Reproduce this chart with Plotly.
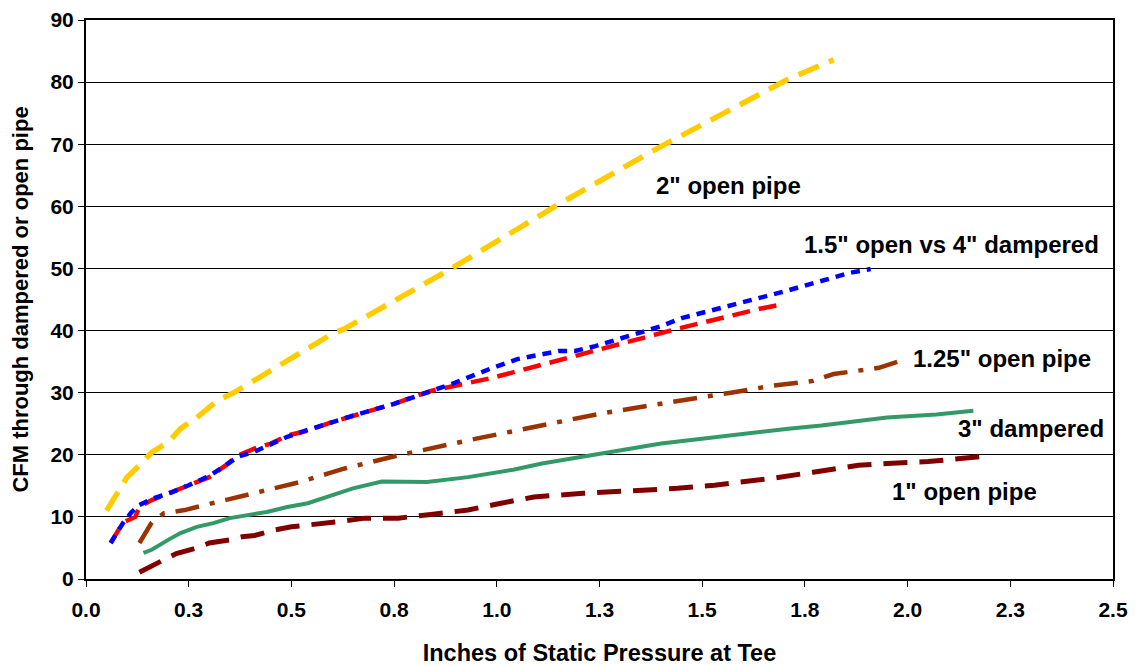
import plotly.graph_objects as go

# ---- data ----
x_2in = [0.05, 0.10, 0.13, 0.16, 0.20, 0.23, 0.27, 0.32, 0.36, 0.41, 0.49, 0.60, 0.63, 0.73, 0.89, 1.15, 1.39, 1.71, 1.82]
y_2in = [11.0, 16.4, 18.3, 20.4, 22.0, 24.2, 26.0, 28.7, 30.0, 32.0, 35.1, 39.5, 40.3, 44.0, 50.0, 60.3, 69.3, 80.5, 83.6]

x_15in = [0.06, 0.09, 0.12, 0.13, 0.16, 0.21, 0.25, 0.30, 0.34, 0.37, 0.41, 0.45, 0.49, 0.54, 0.60, 0.65, 0.75, 0.84, 0.90, 0.99, 1.19, 1.44, 1.64, 1.70]
y_15in = [5.8, 9.1, 10.0, 11.6, 12.7, 14.0, 15.1, 16.4, 18.3, 19.9, 21.0, 21.8, 23.1, 23.9, 25.3, 26.3, 28.2, 30.3, 31.1, 32.4, 35.9, 40.3, 43.5, 44.3]

x_4damp = [0.06, 0.09, 0.11, 0.13, 0.16, 0.21, 0.25, 0.30, 0.34, 0.37, 0.41, 0.45, 0.49, 0.54, 0.60, 0.65, 0.75, 0.84, 0.89, 0.99, 1.05, 1.15, 1.19, 1.24, 1.40, 1.45, 1.70, 1.86, 1.91]
y_4damp = [5.8, 9.0, 10.7, 11.9, 12.9, 14.0, 15.1, 16.6, 18.3, 19.7, 20.5, 21.8, 22.9, 24.0, 25.3, 26.3, 28.2, 30.2, 31.4, 34.0, 35.4, 36.7, 36.7, 37.5, 40.7, 42.0, 46.3, 49.3, 49.9]

x_125in = [0.13, 0.16, 0.19, 0.24, 0.27, 0.32, 0.40, 0.46, 0.49, 0.52, 0.59, 0.63, 0.76, 0.90, 0.95, 1.01, 1.11, 1.25, 1.37, 1.42, 1.57, 1.67, 1.77, 1.82, 1.87, 1.93, 1.99]
y_125in = [5.8, 9.1, 10.6, 11.1, 11.6, 12.4, 13.8, 14.6, 15.1, 15.6, 17.0, 17.8, 19.9, 22.0, 22.6, 23.4, 24.7, 26.6, 27.9, 28.4, 30.0, 31.1, 31.9, 33.0, 33.5, 34.0, 35.3]

x_3damp = [0.14, 0.16, 0.20, 0.23, 0.27, 0.31, 0.35, 0.39, 0.44, 0.49, 0.54, 0.60, 0.65, 0.72, 0.83, 0.93, 1.04, 1.11, 1.25, 1.40, 1.71, 1.79, 1.95, 2.07, 2.16]
y_3damp = [4.2, 4.7, 6.3, 7.4, 8.4, 9.0, 9.8, 10.3, 10.8, 11.6, 12.2, 13.5, 14.6, 15.7, 15.6, 16.4, 17.6, 18.6, 20.2, 21.8, 24.2, 24.7, 26.0, 26.5, 27.1]

x_1in = [0.13, 0.19, 0.22, 0.27, 0.30, 0.35, 0.38, 0.41, 0.46, 0.50, 0.55, 0.61, 0.68, 0.76, 0.84, 0.93, 1.01, 1.09, 1.21, 1.28, 1.44, 1.53, 1.67, 1.77, 1.88, 1.95, 2.05, 2.18]
y_1in = [1.1, 3.0, 4.1, 5.0, 5.8, 6.3, 6.8, 7.0, 7.9, 8.4, 8.7, 9.2, 9.8, 9.8, 10.4, 11.1, 12.2, 13.2, 13.8, 14.0, 14.6, 15.1, 16.2, 17.2, 18.3, 18.6, 18.9, 19.7]

x_tickvals = [0.0, 0.25, 0.5, 0.75, 1.0, 1.25, 1.5, 1.75, 2.0, 2.25, 2.5]
x_ticktext = ["0.0", "0.3", "0.5", "0.8", "1.0", "1.3", "1.5", "1.8", "2.0", "2.3", "2.5"]
y_tickvals = [0, 10, 20, 30, 40, 50, 60, 70, 80, 90]

labels = ['2" open pipe', '1.5" open vs 4" dampered', '1.25" open pipe', '3" dampered', '1" open pipe']
label_x = [1.565, 2.107, 2.231, 2.30, 2.139]
label_y = [63.4, 53.9, 35.5, 24.2, 14.1]

FONT = "Liberation Sans, Arial, sans-serif"

fig = go.Figure()
series = [
    (x_2in, y_2in, "#FFCC00", 5.5, "22px,11px"),
    (x_15in, y_15in, "#FF0000", 4.5, "18px,9px"),
    (x_4damp, y_4damp, "#0000FF", 4.5, "9px,7px"),
    (x_125in, y_125in, "#993300", 4.5, "24px,11px,5px,11px"),
    (x_3damp, y_3damp, "#339966", 4, "solid"),
    (x_1in, y_1in, "#800000", 5, "24px,12px"),
]
for xs, ys, col, w, dash in series:
    fig.add_trace(go.Scatter(x=xs, y=ys, mode="lines",
                             line=dict(color=col, width=w, dash=dash),
                             showlegend=False, hoverinfo="skip"))

for t, ax, ay in zip(labels, label_x, label_y):
    fig.add_annotation(x=ax, y=ay, text=t, showarrow=False, xref="x", yref="y",
                       font=dict(family=FONT, size=24, color="black", weight="bold"))

# the page body adds an 8px offset, so the figure is sized to fit the window
fig.update_layout(
    width=1134, height=658,
    margin=dict(l=78, r=29, t=12, b=87),
    paper_bgcolor="white", plot_bgcolor="white",
    font=dict(family=FONT, size=20, color="black", weight="bold"),
    showlegend=False,
)
fig.update_xaxes(range=[0, 2.5], tickvals=x_tickvals, ticktext=x_ticktext,
                 automargin=False, ticklabeloverflow="allow",
                 showgrid=False, zeroline=False,
                 showline=True, linecolor="black", linewidth=2, mirror=True,
                 ticks="outside", ticklen=6, tickcolor="black", tickwidth=1,
                 ticklabelstandoff=5,
                 tickfont=dict(family=FONT, size=21, color="black", weight="bold"),
                 title=dict(text="Inches of Static Pressure at Tee", standoff=27,
                            font=dict(family=FONT, size=23.5, color="black", weight="bold")))
fig.update_yaxes(range=[0, 90], tickvals=y_tickvals,
                 automargin=False, ticklabeloverflow="allow",
                 showgrid=True, gridcolor="black", gridwidth=1, zeroline=False,
                 showline=True, linecolor="black", linewidth=2, mirror=True,
                 ticks="outside", ticklen=6, tickcolor="black", tickwidth=1,
                 tickfont=dict(family=FONT, size=21, color="black", weight="bold"),
                 title=dict(text="CFM through dampered or open pipe", standoff=19,
                            font=dict(family=FONT, size=22, color="black", weight="bold")))

fig.write_html("out.html")
